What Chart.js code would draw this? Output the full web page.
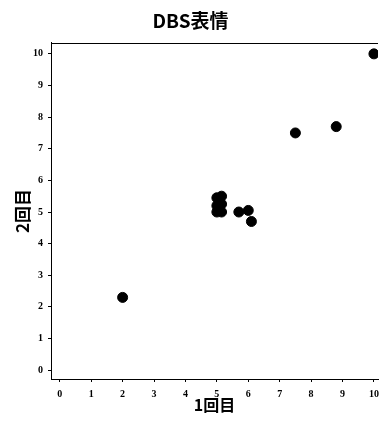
<!DOCTYPE html>
<html>
<head>
<meta charset="utf-8">
<script src="https://cdn.jsdelivr.net/npm/chart.js@4/dist/chart.umd.min.js"></script>
<style>
  html, body { margin: 0; padding: 0; background: #fff; overflow: hidden; }
  canvas { display: block; }
</style>
</head>
<body>
<canvas id="dbsChart" width="385" height="429"></canvas>
<script>
// 1st and 2nd rating of each subject
const firstScores  = [2.0, 5.0, 5.0, 5.0, 5.15, 5.15, 5.15, 5.7, 6.0, 6.1, 7.5, 8.8, 10.0];
const secondScores = [2.3, 5.0, 5.2, 5.45, 5.0, 5.25, 5.5, 5.0, 5.05, 4.7, 7.5, 7.7, 10.0];
const tickValues   = [0, 1, 2, 3, 4, 5, 6, 7, 8, 9, 10];

const points = firstScores.map((x, i) => ({ x: x, y: secondScores[i] }));

const tickFont = { family: "'Liberation Serif', serif", size: 10, weight: 'bold' };
const setTicks = scale => { scale.ticks = tickValues.map(v => ({ value: v })); };

// frame line along the top of the plot area
const topFrame = {
    id: 'topFrame',
    afterDraw(chart) {
        const { ctx, chartArea } = chart;
        ctx.save();
        ctx.strokeStyle = '#000';
        ctx.lineWidth = 1;
        ctx.beginPath();
        ctx.moveTo(chartArea.left, Math.round(chartArea.top) + 0.5);
        ctx.lineTo(chartArea.right, Math.round(chartArea.top) + 0.5);
        ctx.stroke();
        ctx.restore();
    }
};

new Chart(document.getElementById('dbsChart'), {
    type: 'scatter',
    data: {
        datasets: [{
            data: points,
            backgroundColor: '#000',
            borderColor: '#000',
            pointRadius: 5,
            pointHoverRadius: 5
        }]
    },
    options: {
        responsive: false,
        animation: false,
        layout: { padding: { left: 0, right: 4, top: 0, bottom: 0 } },
        plugins: {
            legend: { display: false },
            tooltip: { enabled: false },
            title: {
                display: true,
                text: 'DBS表情',
                color: '#000',
                font: { family: "'Noto Sans CJK JP', sans-serif", size: 19, weight: 'bold' },
                padding: { top: 9, bottom: 11 }
            }
        },
        scales: {
            x: {
                type: 'linear',
                position: 'bottom',
                min: -0.28,
                max: 10.13,
                afterBuildTicks: setTicks,
                afterFit: s => { s.height = 50; },
                ticks: { color: '#000', font: tickFont, padding: 6, maxRotation: 0 },
                grid: { display: true, drawOnChartArea: false, tickLength: 3, color: '#000' },
                border: { display: true, color: '#000', width: 1 },
                title: {
                    display: true,
                    text: '1回目',
                    color: '#000',
                    font: { family: "'Noto Sans CJK JP', sans-serif", size: 16, weight: 'bold' },
                    padding: { top: 0, bottom: 14 }
                }
            },
            y: {
                type: 'linear',
                min: -0.28,
                max: 10.35,
                afterBuildTicks: setTicks,
                afterFit: s => { s.width = 51; },
                ticks: { color: '#000', font: tickFont, padding: 5 },
                grid: { display: true, drawOnChartArea: false, tickLength: 3, color: '#000' },
                border: { display: true, color: '#000', width: 1 },
                title: {
                    display: true,
                    text: '2回目',
                    color: '#000',
                    font: { family: "'Noto Sans CJK JP', sans-serif", size: 17, weight: 'bold' },
                    padding: { top: 12, bottom: 0 }
                }
            }
        }
    },
    plugins: [topFrame]
});
</script>
</body>
</html>
